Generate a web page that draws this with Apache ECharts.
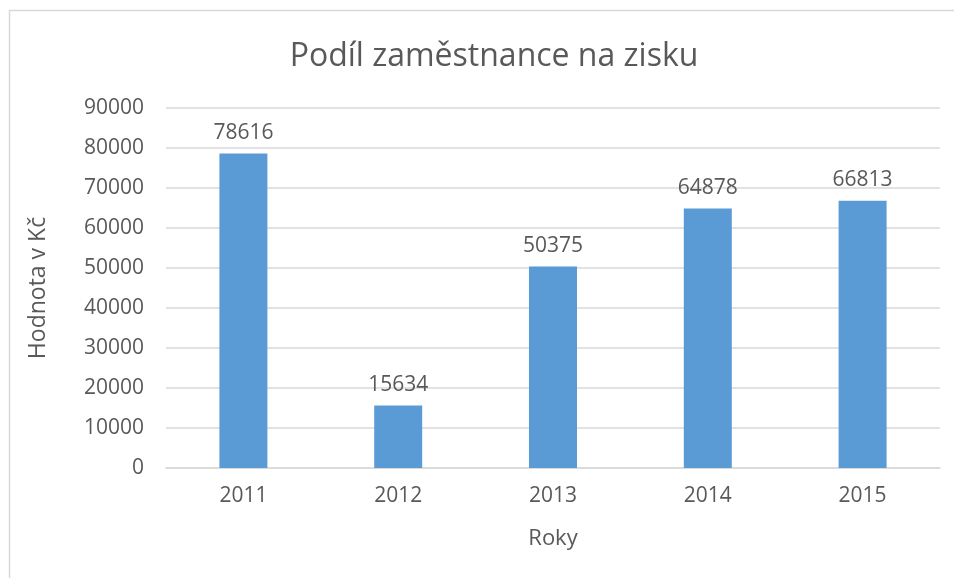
<!DOCTYPE html>
<html>
<head>
<meta charset="utf-8">
<script src="https://cdn.jsdelivr.net/npm/echarts@6/dist/echarts.min.js"></script>
<style>
  html, body { margin: 0; padding: 0; background: #fff; }
  #container { width: 954px; height: 578px; }
</style>
</head>
<body>
<div id="container"></div>
<script>
  // data
  var years = ['2011', '2012', '2013', '2014', '2015'];
  var values = [78616, 15634, 50375, 64878, 66813];

  var textColor = '#595959';
  var font = 'Open Sans';

  var myChart = echarts.init(document.getElementById('container'));
  myChart.setOption({
    animation: false,
    backgroundColor: '#fff',
    textStyle: {fontFamily: font},
    graphic: [{
      // outer frame of the chart
      type: 'rect',
      shape: {x: 9.5, y: 10.5, width: 960, height: 600},
      style: {fill: 'none', stroke: '#d9d9d9', lineWidth: 1.5},
      silent: true
    }],
    title: {
      text: 'Podíl zaměstnance na zisku',
      left: 489,
      top: 36,
      textAlign: 'center',
      textStyle: {color: textColor, fontSize: 32, fontWeight: 'normal', fontFamily: font}
    },
    grid: {left: 166, right: 14, top: 108, bottom: 110},
    xAxis: {
      type: 'category',
      data: years,
      name: 'Roky',
      nameLocation: 'middle',
      nameGap: 60,
      nameTextStyle: {color: textColor, fontSize: 22},
      axisLine: {lineStyle: {color: '#d9d9d9', width: 1.5}},
      axisTick: {show: false},
      axisLabel: {color: textColor, fontSize: 21, margin: 18}
    },
    yAxis: {
      type: 'value',
      min: 0,
      max: 90000,
      interval: 10000,
      name: 'Hodnota v Kč',
      nameLocation: 'middle',
      nameGap: 116,
      nameTextStyle: {color: textColor, fontSize: 23},
      axisLine: {show: false},
      axisTick: {show: false},
      splitLine: {lineStyle: {color: '#d9d9d9', width: 1.5}},
      axisLabel: {
        color: textColor,
        fontSize: 21,
        margin: 22,
        formatter: function (v) { return String(v); }
      }
    },
    series: [{
      type: 'bar',
      data: values,
      barWidth: 48,
      itemStyle: {color: '#5b9bd5'},
      label: {
        show: true,
        position: 'top',
        distance: 10,
        color: textColor,
        fontSize: 21
      }
    }]
  });
</script>
</body>
</html>
